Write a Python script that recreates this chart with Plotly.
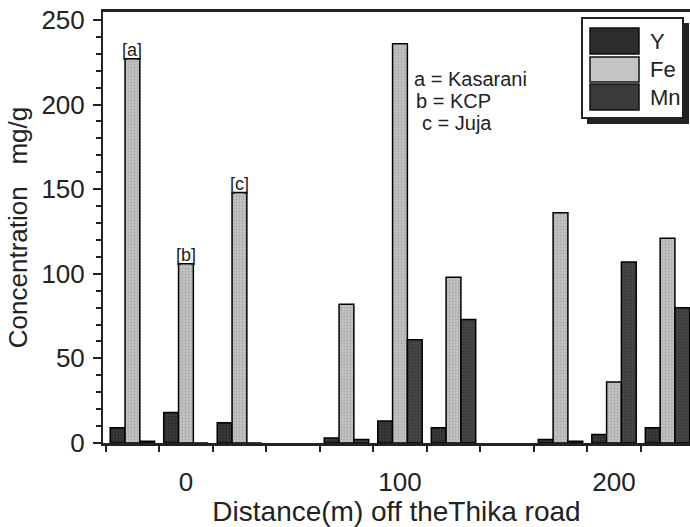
import plotly.graph_objects as go

# ---- data ----
distances = ["0", "100", "200"]
sites = ["a", "b", "c"]
site_names = ["Kasarani", "KCP", "Juja"]
# values ordered: (0,a) (0,b) (0,c) (100,a) (100,b) (100,c) (200,a) (200,b) (200,c)
Y_vals = [9, 18, 12, 3, 13, 9, 2, 5, 9]
Fe_vals = [227, 106, 148, 82, 236, 98, 136, 36, 121]
Mn_vals = [1, 0, 0, 2, 61, 73, 1, 107, 80]
y_ticks = [0, 50, 100, 150, 200, 250]

# ---- layout helpers ----
W, H = 690, 527
ML, MR, MT, MB = 103, 0, 12, 84
PW, PH = W - ML - MR, H - MT - MB


def px_x(p):
    return (p - ML) / PW


def px_y(p):
    return (H - MB - p) / PH


# slot positions: 3 sites per distance plus one empty slot between distances
xpos = []
for di in range(len(distances)):
    for si in range(len(sites)):
        xpos.append(di * 4 + si + 1)
center_pos = [di * 4 + 2 for di in range(len(distances))]

series = [
    ("Y", Y_vals, "#2c2c2c", "#555555"),
    ("Fe", Fe_vals, "#c4c4c4", "#8a8a8a"),
    ("Mn", Mn_vals, "#3b3b3b", "#5e5e5e"),
]

fig = go.Figure()
for name, vals, bg, fg in series:
    fig.add_trace(go.Bar(
        x=xpos, y=vals, name=name, showlegend=False,
        marker=dict(color=bg, line=dict(color="black", width=1.5),
                    pattern=dict(shape=".", fgcolor=fg, bgcolor=bg, size=3, solidity=0.4)),
    ))

font_family = "Liberation Sans, Arial, sans-serif"

annotations = []
# [a] [b] [c] labels above Fe bars of distance 0
for si, s in enumerate(sites):
    annotations.append(dict(
        x=xpos[si], y=Fe_vals[si], xref="x", yref="y", text="[" + s + "]",
        showarrow=False, yanchor="bottom", xanchor="center", yshift=-3,
        font=dict(size=18, color="#222", family=font_family)))

# key text
key_px = [(412, 79), (414, 101), (420, 123)]
for (s, n), (kx, ky) in zip(zip(sites, site_names), key_px):
    annotations.append(dict(
        x=px_x(kx), y=px_y(ky), xref="paper", yref="paper",
        text=s + " = " + n, showarrow=False, xanchor="left", yanchor="middle",
        font=dict(size=20, color="#222", family=font_family)))

# manual legend
shapes = []
shapes.append(dict(type="rect", xref="paper", yref="paper",
                   x0=px_x(587), x1=px_x(689), y0=px_y(124), y1=px_y(23),
                   fillcolor="#222", line=dict(width=0), layer="above"))
shapes.append(dict(type="rect", xref="paper", yref="paper",
                   x0=px_x(582), x1=px_x(683), y0=px_y(118), y1=px_y(18),
                   fillcolor="white", line=dict(color="#222", width=2), layer="above"))
sw_rows = [(28, 54), (57, 82), (84, 110)]
for (name, vals, bg, fg), (t, b) in zip(series, sw_rows):
    shapes.append(dict(type="rect", xref="paper", yref="paper",
                       x0=px_x(590), x1=px_x(639), y0=px_y(b), y1=px_y(t),
                       fillcolor=bg, line=dict(color="#111", width=1.5), layer="above"))
    annotations.append(dict(
        x=px_x(648), y=px_y((t + b) / 2), xref="paper", yref="paper",
        text=name, showarrow=False, xanchor="left", yanchor="middle",
        font=dict(size=22, color="#222", family=font_family)))

fig.update_layout(
    width=W, height=H,
    margin=dict(l=ML, r=MR, t=MT, b=MB),
    paper_bgcolor="white", plot_bgcolor="white",
    barmode="group", bargap=0.17, bargroupgap=0,
    font=dict(family=font_family, color="#222", size=22),
    annotations=annotations, shapes=shapes,
    xaxis=dict(
        range=[0.45, 11.42], tickvals=center_pos, ticktext=distances,
        ticks="", showline=True, linecolor="#222", linewidth=2.5, mirror=True,
        showgrid=False, zeroline=False, ticklabelstandoff=14,
        tickfont=dict(size=26),
        minor=dict(tick0=0.5, dtick=1, ticks="outside", ticklen=6, tickwidth=2, tickcolor="#222",
                   showgrid=False),
        title=dict(text="Distance(m) off theThika road", font=dict(size=28), standoff=0),
    ),
    yaxis=dict(
        range=[0, 254.7], tickvals=y_ticks, ticks="outside", ticklen=8, tickwidth=2,
        tickcolor="#222", showline=True, linecolor="#222", linewidth=2, mirror=False,
        showgrid=False, zeroline=False, tickfont=dict(size=26), ticklabelstandoff=3,
        minor=dict(dtick=10, ticks="outside", ticklen=5, tickwidth=1.5, tickcolor="#222",
                   showgrid=False),
        title=dict(text="Concentration\u00a0\u00a0\u00a0mg/g", font=dict(size=26), standoff=6),
    ),
)

fig.write_html("out.html", config={"displayModeBar": False},
               post_script="document.body.style.margin='0';document.body.style.overflow='hidden';")
